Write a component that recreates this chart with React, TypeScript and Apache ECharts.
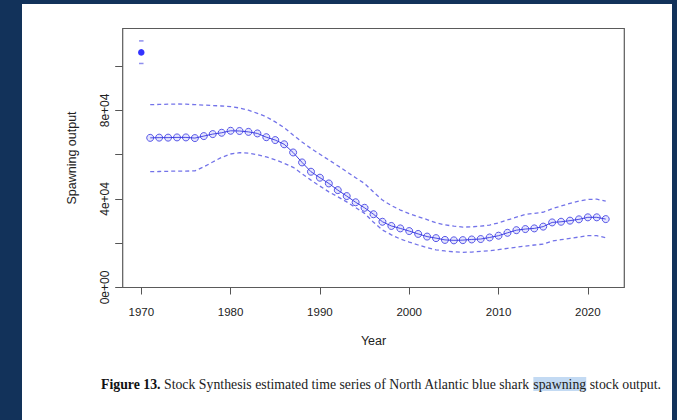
import React, { useEffect, useRef } from "react";
import * as echarts from "echarts";

const years = [
  1971, 1972, 1973, 1974, 1975, 1976, 1977, 1978, 1979, 1980,
  1981, 1982, 1983, 1984, 1985, 1986, 1987, 1988, 1989, 1990,
  1991, 1992, 1993, 1994, 1995, 1996, 1997, 1998, 1999, 2000,
  2001, 2002, 2003, 2004, 2005, 2006, 2007, 2008, 2009, 2010,
  2011, 2012, 2013, 2014, 2015, 2016, 2017, 2018, 2019, 2020,
  2021, 2022,
];

const spawningOutput = [
  67600, 67700, 67700, 67800, 67800, 67500, 68400, 69300, 69900, 70800,
  70700, 70300, 69600, 67900, 66600, 64700, 61000, 56500, 52300, 49600,
  47000, 44000, 41300, 38500, 36000, 33100, 29700, 27800, 26700, 25500,
  24200, 23000, 22300, 21500, 21300, 21400, 21700, 21900, 22600, 23400,
  24700, 25900, 26400, 26700, 27500, 29400, 29700, 30200, 30800, 31700,
  31700, 30900,
];

const upperCI = [
  82600, 82700, 82800, 82900, 82800, 82600, 82400, 82200, 82000, 81700,
  81100, 80100, 78700, 77100, 74800, 72200, 68900, 65700, 62800, 60200,
  57600, 55000, 52300, 49600, 47000, 43100, 39500, 37000, 35000, 33400,
  32000, 30700, 29200, 28300, 27700, 27300, 27400, 27700, 28200, 29200,
  30500, 31800, 33000, 33500, 34000, 35600, 36800, 38000, 39000, 39800,
  39900, 39000,
];

const lowerCI = [
  52300, 52400, 52500, 52600, 52600, 52700, 54500, 56700, 58800, 60300,
  60900, 60700, 60000, 59000, 57700, 56100, 54300, 51400, 48500, 45800,
  43200, 41000, 38700, 36100, 33500, 29500, 26000, 23800, 21900, 20500,
  19200, 18000, 17000, 16500, 16100, 15900, 16000, 16300, 16600, 17100,
  17700, 18200, 18700, 19200, 19600, 21000, 21600, 22200, 22800, 23400,
  23400, 22500,
];

const virginYear = 1970;
const virginValue = 106200;
const virginUpper = 111400;
const virginLower = 101200;

const xTicks = [1970, 1980, 1990, 2000, 2010, 2020];
const yTicks = [0, 20000, 40000, 60000, 80000, 100000];
const yLabelTicks = [0, 40000, 80000];

const fmtSci = (v: number) => {
  if (v === 0) return "0e+00";
  const e = Math.floor(Math.log10(Math.abs(v)));
  const m = Math.round(v / Math.pow(10, e));
  return `${m}e+${String(e).padStart(2, "0")}`;
};

export default function App() {
  const ref = useRef<HTMLDivElement>(null);

  useEffect(() => {
    if (!ref.current) return;
    const chart = echarts.init(ref.current, null, { renderer: "svg" });
    const pair = (vals: number[]) => years.map((y, i) => [y, vals[i]]);
    const dashColor = "rgba(80,80,228,0.8)";
    const capFont = 13.8;

    chart.setOption({
      animation: false,
      backgroundColor: "transparent",
      graphic: [
        {
          type: "rect",
          z: -10,
          silent: true,
          shape: { x: 22, y: 4, width: 650, height: 420 },
          style: { fill: "#ffffff" },
        },
        {
          type: "text",
          left: 101,
          top: 377,
          silent: true,
          style: {
            text: "{b|Figure 13.} Stock Synthesis estimated time series of North Atlantic blue shark {h|spawning} stock output.",
            fontFamily: "Liberation Serif",
            fontSize: capFont,
            fill: "#222",
            rich: {
              b: { fontFamily: "Liberation Serif", fontSize: capFont, fontWeight: "bold", fill: "#111" },
              h: { fontFamily: "Liberation Serif", fontSize: capFont, fill: "#222", backgroundColor: "#c3daf3" },
            },
          },
        },
      ],
      grid: {
        left: 122.7,
        top: 28.5,
        right: 52.7,
        bottom: 132.5,
        show: true,
        borderColor: "#5a5a5a",
        borderWidth: 1.2,
        backgroundColor: "transparent",
      },
      xAxis: {
        type: "value",
        min: 1967.92,
        max: 2024.08,
        name: "Year",
        nameLocation: "middle",
        nameGap: 47,
        nameTextStyle: { fontFamily: "Liberation Sans", fontSize: 12.5, color: "#222" },
        splitLine: { show: false },
        axisLine: { show: false },
        axisTick: { show: true, length: 7, lineStyle: { color: "#555", width: 1 }, customValues: xTicks },
        axisLabel: {
          show: true,
          margin: 18,
          fontFamily: "Liberation Sans",
          fontSize: 11.5,
          color: "#222",
          customValues: xTicks,
          formatter: (v: number) => String(v),
        },
      },
      yAxis: {
        type: "value",
        min: 0,
        max: 117000,
        name: "Spawning output",
        nameLocation: "middle",
        nameRotate: 90,
        nameGap: 44,
        nameTextStyle: { fontFamily: "Liberation Sans", fontSize: 12.5, color: "#222" },
        splitLine: { show: false },
        axisLine: { show: false },
        axisTick: { show: true, length: 7.5, lineStyle: { color: "#555", width: 1 }, customValues: yTicks },
        axisLabel: {
          show: true,
          rotate: 90,
          margin: 12,
          fontFamily: "Liberation Sans",
          fontSize: 12,
          color: "#222",
          customValues: yLabelTicks,
          formatter: (v: number) => fmtSci(v),
        },
      },
      series: [
        {
          type: "line",
          name: "upper",
          data: pair(upperCI),
          showSymbol: false,
          symbol: "none",
          lineStyle: { color: dashColor, width: 1.3, type: [4, 3] },
          silent: true,
        },
        {
          type: "line",
          name: "lower",
          data: pair(lowerCI),
          showSymbol: false,
          symbol: "none",
          lineStyle: { color: dashColor, width: 1.3, type: [4, 3] },
          silent: true,
        },
        {
          type: "line",
          name: "spawning",
          data: pair(spawningOutput),
          symbol: "circle",
          symbolSize: 7,
          showAllSymbol: true,
          lineStyle: { color: "rgba(30,30,220,0.85)", width: 1 },
          itemStyle: {
            color: "rgba(130,130,245,0.2)",
            borderColor: "rgba(50,50,225,0.8)",
            borderWidth: 1,
          },
          silent: true,
        },
        {
          type: "scatter",
          name: "virgin",
          data: [[virginYear, virginValue]],
          symbol: "circle",
          symbolSize: 6.5,
          itemStyle: { color: "#0000ff" },
          silent: true,
        },
        {
          type: "scatter",
          name: "virginCI",
          data: [[virginYear, virginUpper], [virginYear, virginLower]],
          symbol: "rect",
          symbolSize: [4.5, 1.5],
          itemStyle: { color: dashColor },
          silent: true,
        },
      ],
    });

    return () => chart.dispose();
  }, []);

  return (
    <div
      ref={ref}
      style={{ position: "fixed", left: 0, top: 0, width: 677, height: 420, background: "#12325a" }}
    />
  );
}
